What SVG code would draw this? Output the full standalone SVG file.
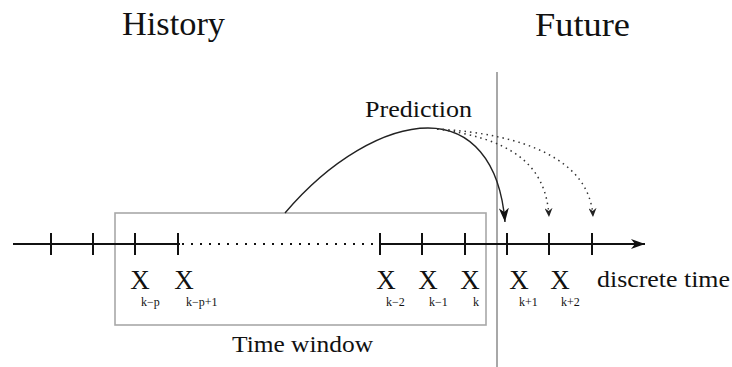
<svg xmlns="http://www.w3.org/2000/svg" width="732" height="367" viewBox="0 0 732 367">
<style>
text{font-family:"Liberation Serif","Times New Roman",Times,serif;fill:#111}
.big{font-size:34px}
.mid{font-size:23px}
.x{font-size:27px;text-anchor:middle}
.sub{font-size:12px}
.tick{stroke:#111;stroke-width:2}
.gray{stroke:#a8a8a8;fill:none}
</style>
<defs>
<marker id="ah" markerWidth="16" markerHeight="10" refX="14" refY="5" orient="auto" markerUnits="userSpaceOnUse">
<path d="M0,0 L14,5 L0,10 L4,5 Z" fill="#111"/>
</marker>
<marker id="ahs" markerWidth="10" markerHeight="8" refX="9" refY="4" orient="auto" markerUnits="userSpaceOnUse">
<path d="M0,0 L9,4 L0,8 L3,4 Z" fill="#222"/>
</marker>
</defs>
<text class="big" x="122" y="35" textLength="103" lengthAdjust="spacingAndGlyphs">History</text>
<text class="big" x="535" y="36" textLength="95" lengthAdjust="spacingAndGlyphs">Future</text>
<text class="mid" x="365" y="117" textLength="107" lengthAdjust="spacingAndGlyphs">Prediction</text>
<g id="window">
<rect class="gray" x="115" y="213" width="371" height="112" stroke-width="1.6"/>
<text class="mid" x="232" y="352" font-size="24" textLength="141" lengthAdjust="spacingAndGlyphs">Time window</text>
</g>
<g id="divider">
<line class="gray" x1="497" y1="72" x2="497" y2="367" stroke-width="2"/>
</g>
<g id="axis">
<line x1="13" y1="244" x2="180" y2="244" stroke="#111" stroke-width="2"/>
<line x1="182" y1="244" x2="378" y2="244" stroke="#111" stroke-width="2" stroke-dasharray="2 7"/>
<line x1="380" y1="244" x2="645" y2="244" stroke="#111" stroke-width="2" marker-end="url(#ah)"/>
<line class="tick" x1="51" y1="233" x2="51" y2="255"/>
<line class="tick" x1="93" y1="233" x2="93" y2="255"/>
<line class="tick" x1="135" y1="233" x2="135" y2="255"/>
<line class="tick" x1="178" y1="233" x2="178" y2="255"/>
<line class="tick" x1="380" y1="233" x2="380" y2="255"/>
<line class="tick" x1="422" y1="233" x2="422" y2="255"/>
<line class="tick" x1="465" y1="233" x2="465" y2="255"/>
<line class="tick" x1="507" y1="233" x2="507" y2="255"/>
<line class="tick" x1="549" y1="233" x2="549" y2="255"/>
<line class="tick" x1="592" y1="233" x2="592" y2="255"/>
<text class="mid" x="597" y="287" font-size="22" textLength="133" lengthAdjust="spacingAndGlyphs">discrete time</text>
</g>
<g id="labels">
<text class="x" x="140" y="289">X</text><text class="sub" x="141" y="306">k−p</text>
<text class="x" x="184" y="289">X</text><text class="sub" x="186" y="306">k−p+1</text>
<text class="x" x="386" y="289">X</text><text class="sub" x="386" y="306">k−2</text>
<text class="x" x="428" y="289">X</text><text class="sub" x="429" y="306">k−1</text>
<text class="x" x="470" y="289">X</text><text class="sub" x="473" y="306">k</text>
<text class="x" x="519" y="289">X</text><text class="sub" x="519" y="306">k+1</text>
<text class="x" x="560" y="289">X</text><text class="sub" x="561" y="306">k+2</text>
</g>
<g id="connectors" fill="none">
<path d="M285,213 C330,160 385,128 428,128 C470,128 500,160 505,222" stroke="#222" stroke-width="1.4" marker-end="url(#ah)"/>
<path d="M437,129 C505,138 546,160 549,217" stroke="#333" stroke-width="1.5" stroke-dasharray="1.5 4" marker-end="url(#ahs)"/>
<path d="M437,129 C525,134 590,160 593,217" stroke="#333" stroke-width="1.5" stroke-dasharray="1.5 4" marker-end="url(#ahs)"/>
</g>
</svg>
